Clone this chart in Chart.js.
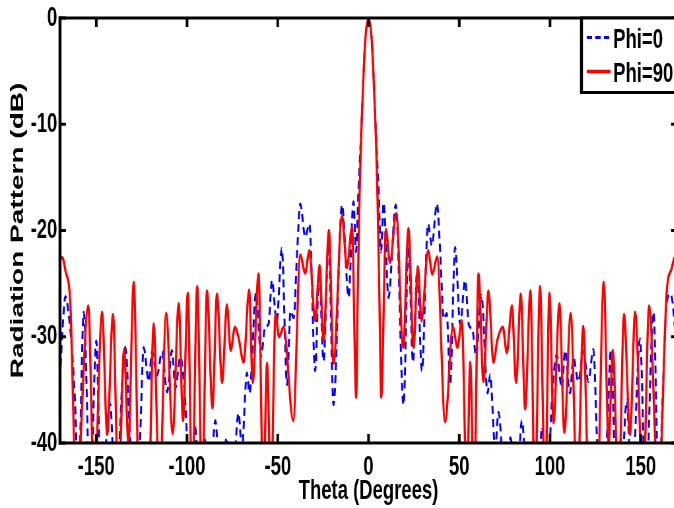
<!DOCTYPE html>
<html><head><meta charset="utf-8">
<script src="https://cdn.jsdelivr.net/npm/chart.js@4/dist/chart.umd.min.js"></script>
<style>
html,body{margin:0;padding:0;background:#fff;overflow:hidden;width:674px;height:508px;}
#wrap{position:absolute;left:0;top:0;width:1036px;height:508px;transform:scaleX(0.66);transform-origin:0 0;}
</style></head><body>
<div id="wrap"><canvas id="c" width="1036" height="508"></canvas></div>
<script>
// ---- data ----
const seriesNames = ['Phi=0', 'Phi=90'];
const xTicks = [-150, -100, -50, 0, 50, 100, 150];
const yTicks = [-40, -30, -20, -10, 0];
const xTitle = 'Theta (Degrees)';
const yTitle = 'Radiation Pattern (dB)';

const thetaPhi0 = [-170,-168.5,-167,-165.5,-163.5,-161.5,-160,-156.9,-153.4,-150,-147.4,-142.4,-139.5,-134,-131.2,-128.5,-126,-123.9,-121.1,-119.3,-116.5,-113.8,-111,-108.3,-106.4,-103.7,-100.9,-98.5,-95.5,-93.3,-90.5,-87.8,-84.4,-81.5,-78.2,-75.5,-71.6,-69.8,-67,-65.6,-62,-59.2,-57,-55.1,-53.2,-50.6,-47.8,-44.9,-43,-41.2,-39.4,-37.6,-34.9,-32.6,-29.4,-27.2,-24.8,-22,-19.3,-14.6,-11,-8.3,-6.9,-5.5,-4,-3,-2,-1,0,1,2,3,4,5.5,6.9,8.3,11,15,19.3,22,24.5,26.8,29.4,32.8,34.9,37.7,39.6,41.4,43.1,45,47.7,50.5,53.2,55.3,57.2,59.3,62.2,65.6,67,69.8,71.6,75.5,78.2,81.5,84.5,87.8,90.5,93.3,95.6,98.5,100.9,103.7,106.5,108.3,111,112.9,115.6,118.4,121.1,123.9,126,128.5,131.3,133.6,136.5,138.8,142.3,145,149.6,152.7,157,160,162,164.3,166.5,168.5,170];
const dbPhi0 = [-34,-29,-26.2,-27.5,-31,-37,-45,-27.7,-45,-30.4,-45,-36.3,-45,-31,-40,-45,-40,-31,-34.2,-31.4,-33.6,-31.4,-35.2,-31.3,-34.8,-31.9,-36.4,-45,-38.5,-45,-39.5,-45,-37.9,-45,-39.5,-45,-37.2,-40.5,-33.4,-35.3,-25.9,-31.8,-29.1,-28.8,-24.7,-28.6,-21.7,-34.5,-27.6,-28.2,-22.2,-17.5,-20.6,-19.4,-33.2,-23.8,-32.3,-21.3,-36.4,-17.6,-26.3,-17.3,-22,-16,-10.5,-6.3,-2.7,-0.7,-0.2,-0.7,-2.7,-6.3,-10.5,-16,-22,-17.4,-26.3,-17.6,-36.4,-21.5,-32.4,-23.8,-33.2,-19.4,-21.4,-17.5,-22.4,-28.3,-27.8,-34.5,-21.6,-28.8,-24.7,-28.9,-29.3,-31.8,-26.1,-35.3,-33.6,-40.5,-37.1,-45,-39.5,-45,-37.9,-45,-39.5,-45,-38.5,-45,-36.4,-31.7,-34.8,-31.3,-35.3,-32,-34.2,-31.4,-34.2,-31.2,-40,-45,-39.5,-31.2,-45,-45,-36,-45,-30.2,-45,-27.7,-45,-36,-26.8,-26,-28.5,-33];

const thetaPhi90 = [-170,-168.5,-167,-164.3,-161,-154.4,-151.2,-146.8,-144,-140.8,-137.8,-134.7,-132.3,-129.4,-126.3,-121.2,-118.4,-115.2,-111.5,-107.9,-104.6,-102.2,-99.6,-97.2,-94.4,-91.7,-89,-86,-83.5,-80.7,-78,-76,-73.6,-71.6,-68.8,-65.8,-63.8,-60.6,-58,-55.9,-53.8,-51.2,-49.3,-46.8,-41.5,-37.6,-34.9,-32.6,-29.4,-27,-24.8,-21.8,-19.3,-14.6,-11.9,-9.1,-6.8,-6,-5,-4,-3,-2,-1,0,1,2,3,4,5,6,7,9.6,11.8,15.3,19.1,22,24.8,27.2,29.2,32.8,35.2,37.8,42.2,46.5,49,51.4,54.2,56,58.2,60.6,63.3,66.1,68.8,71,74,76.2,79,81.3,83.9,86.3,89.2,91.7,94.5,97.3,99.7,101.9,105.2,107.9,111.4,115,118.3,121.5,126,129.6,132.3,134.6,137.8,140.8,144.1,146.9,151.3,154.6,159.8,164.3,167,168.5,170];
const dbPhi90 = [-22.5,-22.6,-23.8,-26.9,-45,-27.1,-45,-27.7,-39.2,-27.9,-45,-31.2,-40,-24.9,-45,-45,-28.8,-45,-27.8,-39.1,-26.9,-37.9,-25.9,-45,-25.3,-45,-25.7,-36.7,-26,-34.3,-27,-31.3,-29.1,-30.1,-32.4,-25.6,-34.3,-24.1,-45,-32.5,-45,-27.9,-30,-29.1,-37.9,-22.3,-24,-21.9,-28.5,-23.3,-30.3,-20,-32.5,-18.6,-23.5,-19.7,-35.7,-26.5,-17.2,-11,-6.5,-2.7,-0.7,-0.2,-0.7,-2.7,-6.5,-11,-17.2,-26.5,-35.7,-19.9,-23,-18.4,-31,-19.8,-31,-23.4,-28.5,-21.9,-24.1,-22.5,-38,-29.1,-31,-28.5,-45,-32.4,-45,-24.1,-34.2,-25.7,-32.4,-30.3,-29.1,-31.5,-27.1,-34.3,-26,-36.8,-25.7,-45,-25.3,-45,-25.9,-38.1,-26.9,-39,-27.8,-45,-29,-45,-45,-24.9,-40,-31.3,-45,-27.9,-39.2,-27.7,-45,-27.1,-45,-25.8,-23.6,-22.6,-22.4];

// ---- chart ----
const FONT = 'Liberation Sans, Arial, Helvetica, sans-serif';
const toPts = (xs, ys) => xs.map((t, i) => ({x: t, y: ys[i]}));

const framePlugin = {
  id: 'frame',
  afterDraw(chart) {
    const {ctx, chartArea: a, scales: {x, y}} = chart;
    ctx.save();
    ctx.strokeStyle = '#000';
    ctx.lineCap = 'butt';
    ctx.lineWidth = 3;
    ctx.beginPath();
    ctx.moveTo(a.left - 2, a.top); ctx.lineTo(a.right + 2, a.top);
    ctx.moveTo(a.left - 2, a.bottom); ctx.lineTo(a.right + 2, a.bottom);
    ctx.stroke();
    ctx.lineWidth = 4.5;
    ctx.beginPath();
    ctx.moveTo(a.left, a.top - 1.5); ctx.lineTo(a.left, a.bottom + 1.5);
    ctx.moveTo(a.right, a.top - 1.5); ctx.lineTo(a.right, a.bottom + 1.5);
    ctx.stroke();
    ctx.lineWidth = 4;
    ctx.beginPath();
    x.ticks.forEach(t => {
      const p = x.getPixelForValue(t.value);
      ctx.moveTo(p, a.bottom); ctx.lineTo(p, a.bottom - 9);
      ctx.moveTo(p, a.top); ctx.lineTo(p, a.top + 9);
    });
    ctx.stroke();
    ctx.lineWidth = 3;
    ctx.beginPath();
    y.ticks.forEach(t => {
      const p = y.getPixelForValue(t.value);
      ctx.moveTo(a.left, p); ctx.lineTo(a.left + 9, p);
      ctx.moveTo(a.right, p); ctx.lineTo(a.right - 9, p);
    });
    ctx.stroke();
    const L = 881, T = a.top, R = 1034, B = 92.5;
    ctx.fillStyle = '#fff';
    ctx.fillRect(L, T, R - L, B - T);
    ctx.lineWidth = 3;
    ctx.beginPath();
    ctx.moveTo(L - 2, T); ctx.lineTo(R, T);
    ctx.moveTo(L - 2, B); ctx.lineTo(R, B);
    ctx.stroke();
    ctx.lineWidth = 4.5;
    ctx.beginPath(); ctx.moveTo(L, T); ctx.lineTo(L, B); ctx.stroke();
    const ds = chart.data.datasets;
    const rows = [{d: ds[1], y: 37.5, base: 48}, {d: ds[0], y: 71.5, base: 82}];
    rows.forEach(r => {
      ctx.strokeStyle = r.d.borderColor;
      ctx.lineWidth = r.d.borderWidth;
      ctx.setLineDash(r.d.borderDash || []);
      ctx.beginPath(); ctx.moveTo(889, r.y); ctx.lineTo(925, r.y); ctx.stroke();
      ctx.setLineDash([]);
      ctx.fillStyle = '#000';
      ctx.font = 'bold 28px ' + FONT;
      ctx.textAlign = 'left';
      ctx.textBaseline = 'alphabetic';
      ctx.fillText(r.d.label, 929, r.base);
    });
    ctx.restore();
  }
};

new Chart(document.getElementById('c'), {
  type: 'line',
  data: {
    datasets: [
      {label: seriesNames[1], data: toPts(thetaPhi90, dbPhi90), borderColor: '#ff0000', borderWidth: 3.4,
       pointRadius: 0, fill: false, cubicInterpolationMode: 'monotone', clip: {left: 0, right: 0, top: 4, bottom: 0}},
      {label: seriesNames[0], data: toPts(thetaPhi0, dbPhi0), borderColor: '#0000ff', borderWidth: 3,
       borderDash: [8, 5], pointRadius: 0, fill: false, cubicInterpolationMode: 'monotone', clip: {left: 0, right: 0, top: 4, bottom: 0}}
    ]
  },
  options: {
    responsive: false,
    animation: false,
    devicePixelRatio: 1,
    layout: {padding: {left: 0, right: 10.2, top: 17, bottom: 0}},
    plugins: {legend: {display: false}, tooltip: {enabled: false}},
    scales: {
      x: {
        type: 'linear', position: 'bottom', min: -170, max: 170,
        afterFit(s) { s.height = 65; },
        afterBuildTicks(s) { s.ticks = xTicks.map(v => ({value: v})); },
        grid: {display: false, drawTicks: false},
        border: {display: false},
        ticks: {autoSkip: false, maxRotation: 0, padding: 10, color: '#000',
                font: {family: FONT, size: 28, weight: 'bold', lineHeight: 1}},
        title: {display: true, text: xTitle, color: '#000', padding: {top: 0, bottom: 0},
                font: {family: FONT, size: 28, weight: 'bold'}}
      },
      y: {
        type: 'linear', position: 'left', min: -40, max: 0,
        afterFit(s) { s.width = 90.9; },
        afterBuildTicks(s) { s.ticks = yTicks.map(v => ({value: v})); },
        grid: {display: false, drawTicks: false},
        border: {display: false},
        ticks: {autoSkip: false, padding: 4, color: '#000',
                font: {family: FONT, size: 28, weight: 'bold', lineHeight: 1}},
        title: {display: true, text: yTitle, color: '#000', padding: {top: 10, bottom: 0},
                font: {family: FONT, size: 28, weight: 'bold'}}
      }
    }
  },
  plugins: [framePlugin]
});
</script>
</body></html>
